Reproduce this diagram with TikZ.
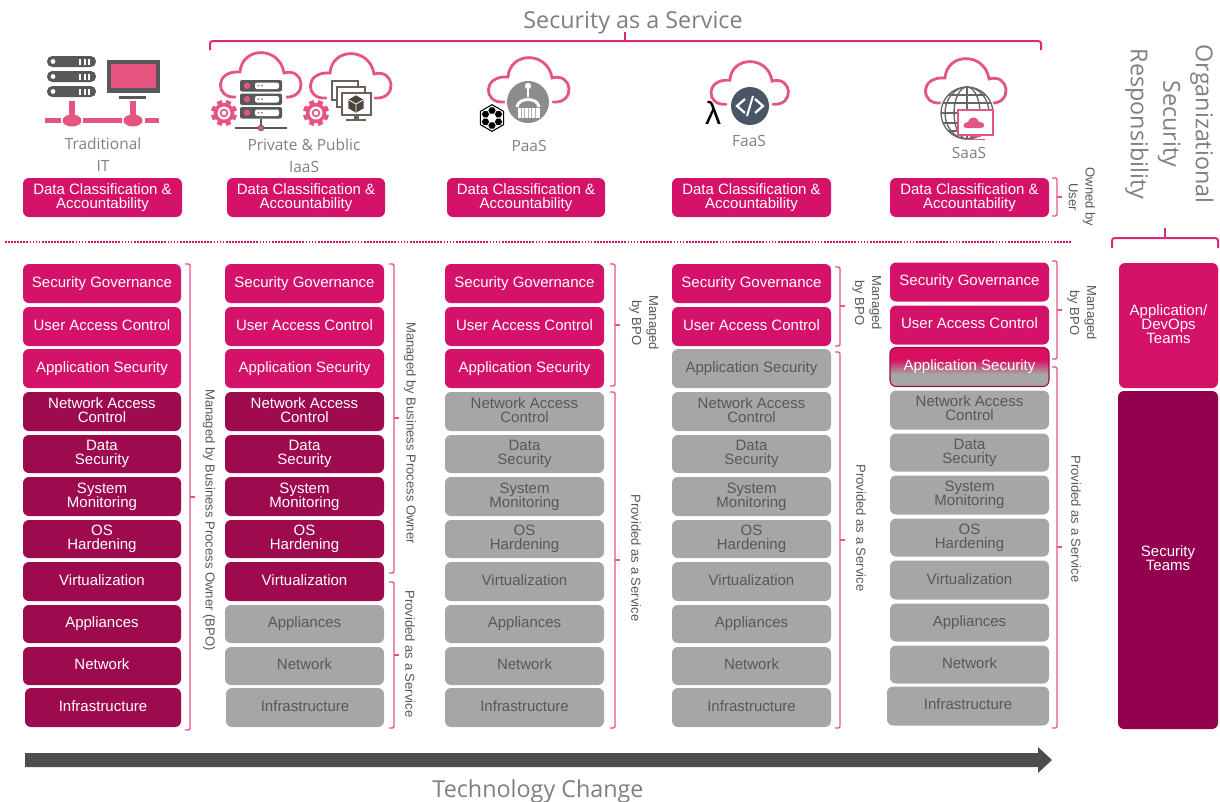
\documentclass[tikz,border=0pt]{standalone}
\usepackage{fontspec}
\setmainfont{Liberation Sans}
\newfontfamily\opensans{Open Sans}
\usetikzlibrary{shapes.geometric,calc}
\definecolor{cpink}{HTML}{D5126A}
\definecolor{cdark}{HTML}{9E0A4E}
\definecolor{cgrey}{HTML}{A6A6A6}
\definecolor{cgtext}{HTML}{58585A}
\definecolor{cteam}{HTML}{930050}
\definecolor{cline}{HTML}{E8528A}
\definecolor{cicon}{HTML}{E5557F}
\definecolor{carrow}{HTML}{4D4D4F}
\definecolor{ctitle}{HTML}{7F7F7F}
\definecolor{cbrown}{HTML}{6B6259}
\definecolor{cslate}{HTML}{4A5568}
\pgfdeclareverticalshading{appsecshade}{100bp}{color(0bp)=(cgrey); color(41bp)=(cgrey); color(59bp)=(cpink!90!red); color(100bp)=(cpink!90!red)}
\tikzset{
  rowbox/.style={rounded corners=4.5pt,inner sep=0pt,align=center,font=\fontsize{11.25pt}{10.5pt}\selectfont},
  pinkbox/.style={rowbox,fill=cpink,text=white},
  darkbox/.style={rowbox,fill=cdark,text=white},
  greybox/.style={rowbox,fill=cgrey,text=cgtext},
  teambox/.style={rowbox,fill=cteam,text=white},
  appsec/.style={fill=none,shading=appsecshade,draw=cdark,line width=.8pt,text=white},
  sidelabel/.style={rotate=-90,align=center,text=cgtext,inner sep=0pt,font=\fontsize{9.8pt}{12.6pt}\selectfont},
  caption/.style={align=center,text=ctitle,inner sep=0pt,font=\opensans\fontsize{11.6pt}{16.5pt}\selectfont},
  bigtitle/.style={align=center,text=ctitle,inner sep=0pt,font=\opensans\fontsize{17.5pt}{25pt}\selectfont},
  bracket/.style={draw=cline,line width=1pt},
  topbracket/.style={draw=cpink!90!white,line width=1.5pt},
  cloudline/.style={draw=cicon,line width=2.1pt,line cap=round},
}
\newcommand{\placebox}[7]{% name, style, x1,x2,y1,y2, text
  \pgfmathsetmacro{\bw}{(#4-#3)*.75}\pgfmathsetmacro{\bh}{(#6-#5)*.75}
  \node[#2,minimum width=\bw pt,minimum height=\bh pt] (#1) at ({(#3+#4)/2},{(#5+#6)/2}) {#7};}
\newcommand{\stackcol}[7]{% id,x1,x2,dy,npink,nend(dark),infra x1
  \foreach \i/\ya/\yb/\ts/\txt in {1/264/303/0/Security Governance,2/307/346/2.2/User Access Control,3/349/388/1.5/Application Security,4/392/431/2.6/Network Access\\Control,5/435/473/0/Data\\Security,6/477/516/0/System\\Monitoring,7/520/558/0.5/OS\\Hardening,8/562/601/1.5/Virtualization,9/605/643/0/Appliances,10/647/685/2.6/Network,11/688/727/2.6/Infrastructure}{
    \ifnum\i>#6\relax\def\st{greybox}\else\ifnum\i>#5\relax\def\st{darkbox}\else\def\st{pinkbox}\fi\fi
    \ifnum\i=11\relax\def\xa{#7}\else\def\xa{#2}\fi
    \pgfmathsetmacro{\yaa}{\ya+#4}\pgfmathsetmacro{\ybb}{\yb+#4}
    \placebox{#1\i}{\st,cell#1\i/.try}{\xa}{#3}{\yaa}{\ybb}{\txt\rule[-\ts pt]{0pt}{0pt}}
  }}
\newcommand{\rbrk}[4]{% x,y1,y2,ytick
  \draw[bracket,rounded corners=1pt] ({#1-5},#2) -- (#1,#2) -- (#1,#3) -- ({#1-5},#3);
  \draw[bracket] (#1,#4) -- ({#1+5},#4);}
\newcommand{\cloudicon}[3]{% cx,top,scale
  \begin{scope}[shift={(#1,#2)},scale=#3]
    \draw[cloudline] (-25,45) .. controls (-46,47) and (-47,18) .. (-21,20) .. controls (-19,-6) and (19,-6) .. (23,21) .. controls (44,15) and (47,47) .. (24,45);
  \end{scope}}
\newcommand{\gearicon}[3]{% cx,cy,r
  \begin{scope}[shift={(#1,#2)}]
    \foreach \a in {0,45,...,315}{\fill[cicon,rotate=\a+22.5] ({-.2*#3},{-.5*#3}) rectangle ({.2*#3},{-#3});}
    \fill[cicon] (0,0) circle ({.78*#3});
    \fill[white] (0,0) circle ({.5*#3});
    \fill[cicon] (0,0) circle ({.33*#3});
    \fill[white] (0,0) circle ({.18*#3});
  \end{scope}}
\newcommand{\serverpill}[1]{%
  \fill[cgtext,rounded corners=3.9pt] (47,#1) rectangle (96,{#1+11});
  \fill[white] (53,{#1+5.5}) circle (2.4);
  \foreach \xx in {79,83.5,88}{\fill[white] (\xx,{#1+2.5}) rectangle ({\xx+2.4},{#1+8.5});}}
\newcommand{\serverrow}[1]{%
  \fill[cgtext,rounded corners=1.5pt] (240,#1) rectangle (282,{#1+11.5});
  \fill[cicon] (247,{#1+5.7}) circle (3.2);
  \fill[white,rounded corners=1.5pt] (255,{#1+2.5}) rectangle (279,{#1+9});
  \fill[cicon] (258.5,{#1+5.7}) circle (1);\fill[cicon] (262,{#1+5.7}) circle (1);}
\newcommand{\stackmon}[4]{% x1,y1,x2,y2
  \draw[cbrown,fill=white,line width=1.6pt] (#1,#2) rectangle (#3,#4);}
\begin{document}
\begin{tikzpicture}[x=.75pt,y=-.75pt]
\useasboundingbox (0,0) rectangle (1220,801);
% titles
\node[bigtitle] (ttl) at (633,23) {Security as a Service};
\node[bigtitle] (tech) at (538,791) {Technology Change};
\node[rotate=-90,bigtitle,font=\opensans\fontsize{17.5pt}{24.4pt}\selectfont] (org) at (1169.5,124) {Organizational\\Security\\Responsibility};
% top bracket
\draw[topbracket,rounded corners=2pt] (210,50) -- (210,41) -- (1041,41) -- (1041,50);
\draw[topbracket] (625,41) -- (625,32);
% org bracket
\draw[topbracket,rounded corners=2pt] (1112,248) -- (1112,238) -- (1218,238) -- (1218,248);
\draw[topbracket] (1165,238) -- (1165,228);
% dotted line
\draw[cpink,line width=1.5pt,dash pattern=on 1.3pt off 1pt] (5,242) -- (1071,242);
% header boxes
\placebox{h1}{pinkbox}{23}{182}{178}{217}{Data Classification \&\\Accountability}
\placebox{h2}{pinkbox}{227}{385}{178}{217}{Data Classification \&\\Accountability}
\placebox{h3}{pinkbox}{447}{605}{178}{217}{Data Classification \&\\Accountability}
\placebox{h4}{pinkbox}{672}{831}{178}{217}{Data Classification \&\\Accountability}
\placebox{h5}{pinkbox}{890}{1049}{178}{217}{Data Classification \&\\Accountability}
% stacks
\stackcol{a}{23}{181}{0}{3}{11}{25}
\stackcol{b}{225}{384}{0}{3}{8}{226}
\stackcol{c}{445}{604}{0}{3}{3}{445}
\stackcol{d}{672}{831}{0}{2}{2}{672}
\tikzset{celle3/.style={appsec}}
\stackcol{e}{890}{1049}{-1.5}{2}{2}{887}
% right team boxes
\placebox{appteam}{pinkbox}{1119}{1218}{263}{388}{Application/\\DevOps\\Teams\rule[-1.5pt]{0pt}{0pt}}
\placebox{secteam}{teambox}{1118}{1218}{391}{729}{Security\\Teams\rule[-3pt]{0pt}{0pt}}
% brackets
\rbrk{190}{264}{730}{497}
\rbrk{394}{264}{573}{418}
\rbrk{394}{582}{728}{655}
\rbrk{615}{264}{386}{325}
\rbrk{615}{392}{728}{560}
\rbrk{840}{267}{346}{306}
\rbrk{840}{352}{728}{540}
\rbrk{1057}{261}{359}{310}
\rbrk{1057}{367}{728}{547}
\rbrk{1057}{178}{216}{197}
% side labels
\node[sidelabel] (l1) at (209,520) {Managed by Business Process Owner (BPO)};
\node[sidelabel] (l2) at (410,433) {Managed by Business Process Owner};
\node[sidelabel] (l3) at (410,654) {Provided as a Service};
\node[sidelabel] (l4) at (644,323) {Managed\\by BPO};
\node[sidelabel] (l5) at (636,558) {Provided as a Service};
\node[sidelabel] (l6) at (867,303) {Managed\\by BPO};
\node[sidelabel] (l7) at (861,528) {Provided as a Service};
\node[sidelabel] (l8) at (1082,313) {Managed\\by BPO};
\node[sidelabel] (l9) at (1076,519) {Provided as a Service};
\node[sidelabel] (l10) at (1082,197) {Owned by\\User};
% arrow
\fill[carrow] (25,753) -- (1038,753) -- (1038,747) -- (1052,760) -- (1038,773) -- (1038,767) -- (25,767) -- cycle;
% captions
\node[caption] (c1) at (103,155) {Traditional\\IT};
\node[caption] (c2) at (304,156) {Private \& Public\\IaaS};
\node[caption] (c3) at (529,146) {PaaS};
\node[caption] (c4) at (749,141) {FaaS};
\node[caption] (c5) at (969,153) {SaaS};
% icon: traditional IT
\serverpill{56}\serverpill{71}\serverpill{86}
\fill[cgtext] (107,60) rectangle (160,93);
\fill[cicon] (110.5,64) rectangle (156,88);
\fill[cgtext] (119,95.5) rectangle (146,99);
\fill[cicon] (45,118) rectangle (61,123);
\fill[cicon] (83,118) rectangle (122,123);
\fill[cicon] (145,118) rectangle (159,123);
\fill[cicon] (69,101) rectangle (75,116);
\fill[cicon] (130,101) rectangle (136,116);
\fill[cicon] (72,120.5) ellipse (9.5 and 6);
\fill[cicon] (133,120.5) ellipse (9.5 and 6);
% icon: IaaS 1
\cloudicon{261}{52}{1}
\fill[white] (236,78) rectangle (286,124);
\serverrow{80}\serverrow{93.5}\serverrow{107}
\draw[cgtext,line width=1.3pt] (235,128) -- (287,128);
\draw[cgtext,line width=1.3pt] (261,119) -- (261,128);
\fill[cicon,draw=cgtext] (261,128) circle (3);
\gearicon{224}{113}{13}
% icon: IaaS 2
\cloudicon{351}{53}{1}
\fill[white] (328,78) rectangle (374,122);
\stackmon{332}{81}{358}{100}
\stackmon{337}{87}{365}{107}
\stackmon{342}{93}{371}{115}
\fill[cbrown] (353.5,115) rectangle (358.5,119);
\fill[cbrown] (346,118.5) rectangle (366,120.5);
\node[regular polygon,regular polygon sides=6,fill=cbrown!70!black,minimum size=13pt,inner sep=0pt,rotate=30] (cube) at (356,104) {};
\draw[white,line width=.6pt] (356,104) -- (356,112) (356,104) -- (349,100) (356,104) -- (363,100);
\gearicon{316}{113}{13}
% icon: PaaS
\cloudicon{529}{57}{1}
\fill[white] (528,102) circle (23);
\fill[gray!90] (528,102) circle (21);
\draw[white,line width=1.4pt] (528,86) -- (528,97);
\fill[white] (528,86) circle (3.2);
\draw[white,line width=2.2pt] (517,107) .. controls (518,97) and (538,97) .. (539,107);
\fill[white] (518,108) rectangle (540,118);
\foreach \xx in {521,524.5,528,531.5,535}{\draw[gray!60,line width=.5pt] (\xx,108) -- (\xx,118);}
\node[regular polygon,regular polygon sides=6,draw=black,fill=white,line width=.8pt,minimum size=20pt,inner sep=0pt,rotate=30] (hexa) at (492,118) {};
\foreach \a in {30,90,...,330}{\node[regular polygon,regular polygon sides=6,fill=black,minimum size=5.5pt,inner sep=0pt] (hx\a) at ($(492,118)+(\a:7.5)$) {};}
% icon: FaaS
\cloudicon{750}{61}{.96}
\fill[white] (750,106) circle (21);
\fill[cslate] (750,106) circle (19);
\draw[white,line width=1.7pt] (745,99) -- (737,106) -- (745,113);
\draw[white,line width=1.7pt] (755,99) -- (763,106) -- (755,113);
\draw[white,line width=1.5pt] (753,96) -- (747,116);
\node[inner sep=0pt,text=black,font=\fontsize{24pt}{24pt}\selectfont] (lam) at (713,113) {λ};
% icon: SaaS
\cloudicon{966}{58}{1}
\fill[white] (967,113) circle (28);
\begin{scope}[draw=gray!80!black,line width=1pt]
\draw (967,113) circle (26);
\draw (967,113) ellipse (13 and 26);
\draw (967,113) ellipse (22 and 26);
\draw (967,87) -- (967,139);
\draw (943,103) -- (991,103);
\draw (941,113) -- (993,113);
\draw (943,123) -- (991,123);
\draw (949,95) -- (985,95);
\draw (949,131) -- (985,131);
\end{scope}
\draw[cicon,fill=white,line width=1.8pt] (958,110) rectangle (993,135);
\fill[cicon] (970,135) rectangle (981,137);
\fill[cicon] (966,139) rectangle (985,140);
\fill[cicon] (966,128) .. controls (962,128) and (963,122) .. (968,122) .. controls (969,116) and (978,116) .. (979,122) .. controls (985,121) and (986,128) .. (981,128) -- cycle;
\end{tikzpicture}
\end{document}
